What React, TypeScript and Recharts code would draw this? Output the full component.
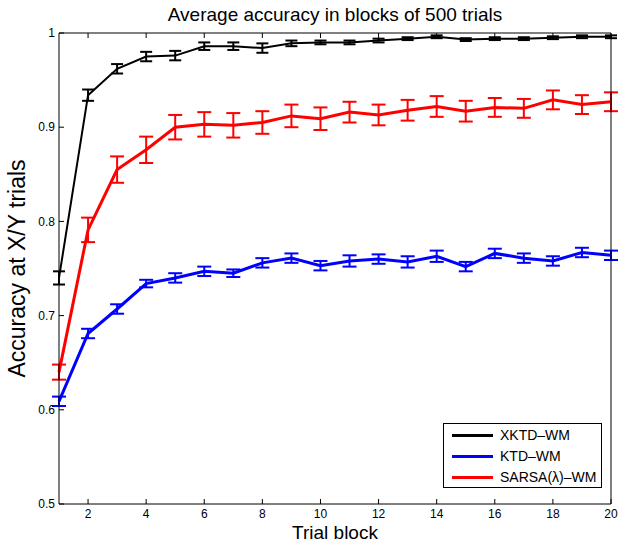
import React from 'react';
import { LineChart, Line, XAxis, YAxis, ErrorBar, Legend, Label } from 'recharts';

// trial blocks (500 trials each)
const blocks = [1, 2, 3, 4, 5, 6, 7, 8, 9, 10, 11, 12, 13, 14, 15, 16, 17, 18, 19, 20];

const xktdMean = [0.740, 0.934, 0.962, 0.975, 0.976, 0.986, 0.986, 0.984, 0.989, 0.990, 0.990, 0.992, 0.994, 0.996, 0.993, 0.994, 0.994, 0.995, 0.996, 0.996];
const xktdErr = [0.007, 0.006, 0.005, 0.005, 0.005, 0.004, 0.004, 0.005, 0.003, 0.002, 0.002, 0.002, 0.0015, 0.0015, 0.0015, 0.0015, 0.0015, 0.0015, 0.0015, 0.0015];

const ktdMean = [0.609, 0.681, 0.707, 0.734, 0.740, 0.747, 0.745, 0.756, 0.761, 0.753, 0.758, 0.760, 0.757, 0.763, 0.752, 0.766, 0.761, 0.758, 0.767, 0.764];
const ktdErr = [0.005, 0.005, 0.005, 0.004, 0.005, 0.005, 0.004, 0.005, 0.005, 0.005, 0.006, 0.005, 0.006, 0.006, 0.005, 0.005, 0.005, 0.005, 0.005, 0.005];

const sarsaMean = [0.640, 0.791, 0.855, 0.876, 0.900, 0.903, 0.902, 0.905, 0.912, 0.909, 0.916, 0.913, 0.918, 0.922, 0.917, 0.921, 0.920, 0.929, 0.924, 0.927];
const sarsaErr = [0.008, 0.013, 0.014, 0.014, 0.013, 0.013, 0.013, 0.012, 0.012, 0.012, 0.011, 0.011, 0.011, 0.011, 0.011, 0.010, 0.010, 0.010, 0.010, 0.010];

const xTicks = [2, 4, 6, 8, 10, 12, 14, 16, 18, 20];
const yTicks = [0.5, 0.6, 0.7, 0.8, 0.9, 1];

const rows = blocks.map((b, i) => ({
  block: b,
  xktd: xktdMean[i], xktdErr: xktdErr[i],
  ktd: ktdMean[i], ktdErr: ktdErr[i],
  sarsa: sarsaMean[i], sarsaErr: sarsaErr[i],
}));

const series = [
  { key: 'xktd', name: 'XKTD–WM', color: '#000000', width: 2, cap: 6 },
  { key: 'ktd', name: 'KTD–WM', color: '#0000ff', width: 3, cap: 7 },
  { key: 'sarsa', name: 'SARSA(λ)–WM', color: '#ff0000', width: 3, cap: 7 },
];
const legendOrder = series.map((s) => s.name);

const FONT = '"Liberation Sans", Arial, Helvetica, sans-serif';

const noTick = () => <g />;

const TitleLabel = ({ viewBox }: any) => (
  <text x={viewBox.x + viewBox.width / 2} y={21} textAnchor="middle" fontSize={19} fill="#000">
    Average accuracy in blocks of 500 trials
  </text>
);

const XTitle = ({ viewBox }: any) => (
  <text x={viewBox.x + viewBox.width / 2} y={539} textAnchor="middle" fontSize={19} fill="#000">
    Trial block
  </text>
);

const YTitle = ({ viewBox }: any) => {
  const cy = viewBox.y + viewBox.height / 2;
  return (
    <text x={25} y={cy} transform={`rotate(-90 25 ${cy})`} textAnchor="middle" fontSize={23} fill="#000">
      Accuracy at X/Y trials
    </text>
  );
};

const LegendBox = ({ payload }: any) => {
  const items = [...(payload || [])].sort(
    (a: any, b: any) => legendOrder.indexOf(a.value) - legendOrder.indexOf(b.value),
  );
  return (
    <div style={{
      width: 159, height: 65, boxSizing: 'border-box', border: '1px solid #000',
      background: '#fff', paddingTop: 1, fontFamily: FONT,
    }}>
      {items.map((p: any) => (
        <div key={p.value} style={{ display: 'flex', alignItems: 'center', height: 21 }}>
          <div style={{ marginLeft: 8, width: 41, height: 2.5, background: p.color }} />
          <span style={{ marginLeft: 7, fontSize: 14, color: '#000', lineHeight: '21px' }}>{p.value}</span>
        </div>
      ))}
    </div>
  );
};

export default function App() {
  return (
    <div style={{ position: 'absolute', left: 0, top: 0, width: 618, height: 544, background: '#fff', fontFamily: FONT }}>
      <LineChart width={618} height={544} data={rows} margin={{ top: 32, right: 6, bottom: 0, left: 0 }}>
        <XAxis dataKey="block" type="number" domain={[1, 20]} ticks={xTicks} interval={0}
          height={40} stroke="#000" tickSize={-5} tickMargin={10}
          tick={{ fill: '#000', fontSize: 12 }}>
          <Label content={XTitle} />
        </XAxis>
        <XAxis xAxisId="top" orientation="top" dataKey="block" type="number" domain={[1, 20]} ticks={xTicks}
          interval={0} height={1} stroke="#000" tickSize={-5} tick={noTick}>
          <Label content={TitleLabel} />
        </XAxis>
        <YAxis type="number" domain={[0.5, 1]} ticks={yTicks} interval={0} width={59}
          stroke="#000" tickSize={-5} tickMargin={9} tick={{ fill: '#000', fontSize: 12 }}
          tickFormatter={(v: number) => String(v)}>
          <Label content={YTitle} />
        </YAxis>
        <YAxis yAxisId="right" orientation="right" type="number" domain={[0.5, 1]} ticks={yTicks}
          interval={0} width={1} stroke="#000" tickSize={-5} tick={noTick} />
        <Legend layout="vertical" align="center" verticalAlign="middle"
          wrapperStyle={{ left: 443, top: 423, width: 159, height: 65 }} content={<LegendBox />} />
        {series.map((s) => (
          <Line key={s.key} type="linear" dataKey={s.key} name={s.name} stroke={s.color}
            strokeWidth={s.width} dot={false} activeDot={false} isAnimationActive={false}>
            <ErrorBar dataKey={`${s.key}Err`} direction="y" width={s.cap} stroke={s.color}
              strokeWidth={2} isAnimationActive={false} />
          </Line>
        ))}
      </LineChart>
    </div>
  );
}
